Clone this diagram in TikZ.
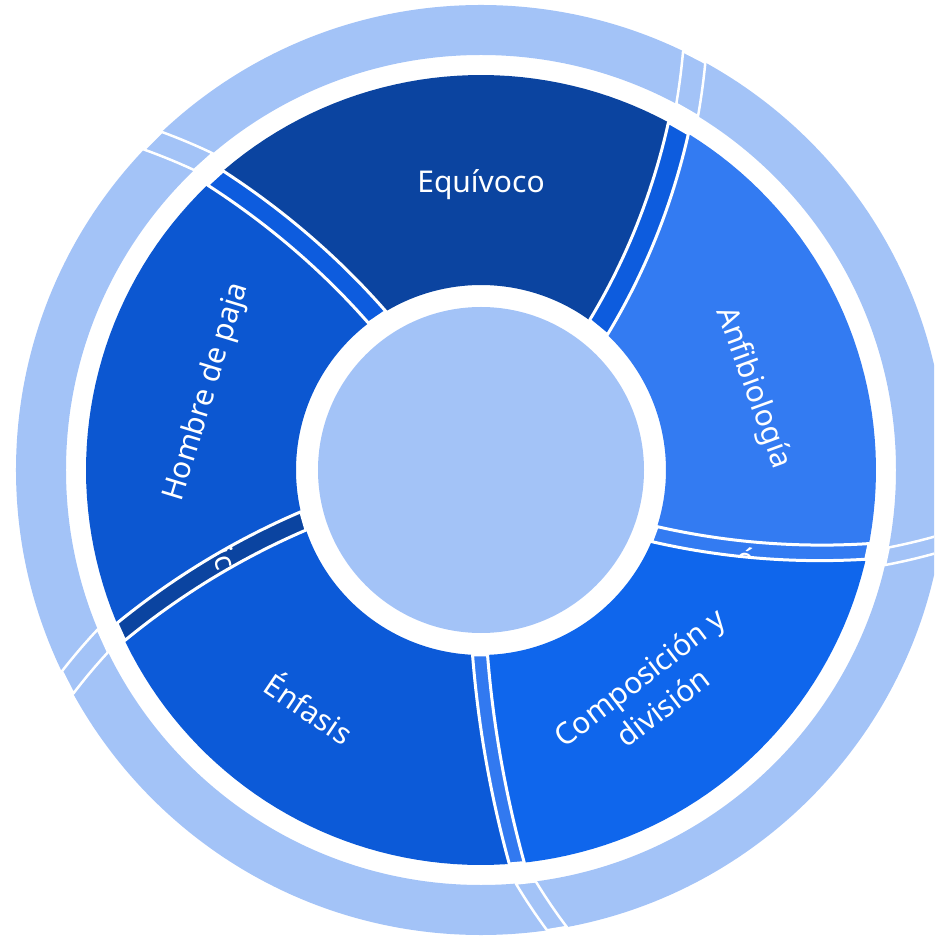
\documentclass[tikz,border=0pt]{standalone}
\usepackage{fontspec}
\setmainfont{Noto Sans}

\definecolor{equivoco}{RGB}{11,68,160}
\definecolor{hombre}{RGB}{12,87,209}
\definecolor{enfasis}{RGB}{12,90,216}
\definecolor{composicion}{RGB}{15,102,236}
\definecolor{anfibio}{RGB}{51,123,242}
\definecolor{midblue}{RGB}{13,92,222}
\definecolor{lightband}{RGB}{50,121,240}
\definecolor{pale}{RGB}{163,195,247}

\tikzset{
  chartlabel/.style={text=white, font=\fontsize{30}{38}\selectfont, inner sep=0pt, align=center},
  bandlabel/.style={text=white, font=\fontsize{29}{32}\selectfont, inner sep=0pt},
  bandline/.style={draw=white, line width=3pt, line join=round},
  ringline/.style={draw=white, line width=2.5pt, line join=round},
}

% slice between two twisted borders, main ring 185..395
\newcommand{\slicepath}[4]{plot[domain=185:395,samples=25] ({#1+((#2)-(#1))*(\x-185)/210}:\x)
  -- plot[domain=#2:#4,samples=40] (\x:395)
  -- plot[domain=395:185,samples=25] ({#3+((#4)-(#3))*(\x-185)/210}:\x)
  -- plot[domain=#3:#1,samples=40] (\x:185) -- cycle}

% thin band of half width #5 from radius #3 to #4
\newcommand{\bandpath}[5]{plot[domain=#3:#4,samples=25] ({#1+((#2)-(#1))*(\x-(#3))/((#4)-(#3))+(#5)/\x*57.3}:\x)
  -- plot[domain=#4:#3,samples=25] ({#1+((#2)-(#1))*(\x-(#3))/((#4)-(#3))-(#5)/\x*57.3}:\x) -- cycle}

\begin{document}
\begin{tikzpicture}[x=1pt,y=1pt]
    \clip (-481,-466) rectangle (453,470);

    % outer ring
    \fill[pale, even odd rule] (0,0) circle[radius=465pt] (0,0) circle[radius=415pt];
    \filldraw[ringline, fill=pale] \bandpath{60.2}{62.7}{415}{465}{12.5};
    \filldraw[ringline, fill=pale] \bandpath{-12}{-9.1}{415}{465}{9};
    \filldraw[ringline, fill=pale] \bandpath{276.2}{279.4}{415}{465}{10};
    \filldraw[ringline, fill=pale] \bandpath{204.3}{207.2}{415}{465}{12.5};
    \filldraw[ringline, fill=pale] \bandpath{132}{134.9}{415}{465}{12.5};

    % main ring
    \fill[anfibio] \slicepath{-20.3}{-11.9}{50.5}{60};
    \fill[equivoco] \slicepath{50.5}{60}{124.2}{132.3};
    \fill[hombre] \slicepath{124.2}{132.3}{196}{204.2};
    \fill[enfasis] \slicepath{196}{204.2}{269.7}{275.2};
    \fill[composicion] \slicepath{269.7}{275.2}{339.7}{348.1};

    \filldraw[bandline, fill=midblue] \bandpath{50.5}{60}{185}{395}{11.5};
    \filldraw[bandline, fill=anfibio] \bandpath{-20.3}{-11.9}{185}{395}{8};
    \filldraw[bandline, fill=lightband] \bandpath{269.7}{275.2}{185}{395}{7.5};
    \filldraw[bandline, fill=equivoco] \bandpath{196}{204.2}{185}{395}{9.5};
    \filldraw[bandline, fill=midblue] \bandpath{124.2}{132.3}{185}{395}{10.5};

    % centre
    \fill[pale] (0,0) circle[radius=163pt];

    % labels
    \node[chartlabel] (equivoco) at (0,285) {Equívoco};
    \node[chartlabel, rotate=-70] (anfibiologia) at (272,82) {Anfibiología};
    \node[chartlabel, rotate=37.5] (composicion) at (170,-222) {Composición y\\división};
    \node[chartlabel, rotate=-34] (enfasis) at (-171,-237) {Énfasis};
    \node[chartlabel, rotate=73] (hombre) at (-274,78) {Hombre de paja};
    \begin{scope}
        \clip \bandpath{196}{204.2}{185}{395}{10};
        \node[bandlabel, rotate=-72] (ic) at (-256,-88) {ic};
    \end{scope}
    \begin{scope}
        \clip \bandpath{-20.3}{-11.9}{185}{395}{8.5};
        \node[bandlabel, rotate=-15] (acento) at (265,-88) {ó};
    \end{scope}
\end{tikzpicture}
\end{document}
